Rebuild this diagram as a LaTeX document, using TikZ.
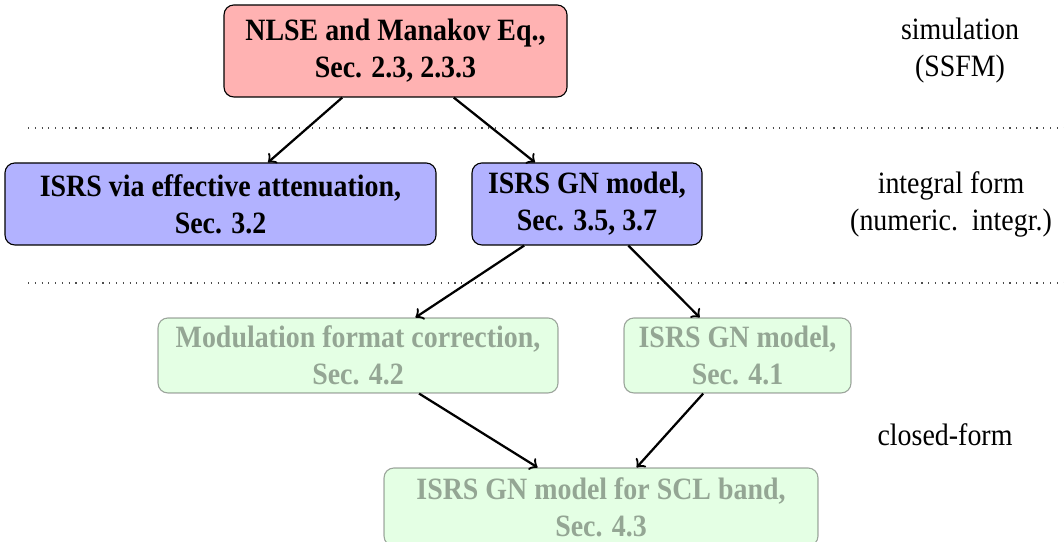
\documentclass[tikz,border=0pt]{standalone}
\usepackage{fontspec}
\setmainfont{Liberation Serif}[FakeStretch=0.9]
\usetikzlibrary{math}

\begin{document}
\begin{tikzpicture}[x=.3546pt,y=-.3546pt,
    box/.style={draw, rounded corners=3.5pt, align=center, inner sep=0pt,
      font=\bfseries\fontsize{11}{13.1}\selectfont},
    boxsize/.style 2 args={minimum width=#1*.3546pt, minimum height=#2*.3546pt},
    simbox/.style={box, fill=red!30},
    intbox/.style={box, fill=blue!30},
    closedbox/.style={box, fill=green!30, opacity=.35},
    layer/.style={align=center, font=\fontsize{11}{13.1}\selectfont},
    link/.style={->, thick},
    sep/.style={dotted, black!70}]
    \tikzmath{
      % ------------------------------
      % the rows of the diagram (in px)
      % ------------------------------
      \rowA=51; % simulation
      \rowB=204; % integral form
      \rowC=355.5; % closed-form
      \rowD=507; % closed-form, last box
    }
    \useasboundingbox (0,0) rectangle (1064,542);
    % -----------------
    % the layer borders
    % -----------------
    \coordinate (sepA0) at (28,128);
    \coordinate (sepA1) at (1064,128);
    \coordinate (sepB0) at (28,283);
    \coordinate (sepB1) at (1064,283);
    \draw[sep] (sepA0) -- (sepA1);
    \draw[sep] (sepB0) -- (sepB1);
    % ---------
    % the boxes
    % ---------
    \node[simbox, boxsize={343}{92}] (nlse) at (395.5,\rowA)
      {NLSE and Manakov Eq.,\\Sec. 2.3, 2.3.3};
    \node[intbox, boxsize={431}{82}] (effatt) at (220.5,\rowB)
      {ISRS via effective attenuation,\\Sec. 3.2};
    \node[intbox, boxsize={230}{82}] (isrsgn) at (587,\rowB)
      {ISRS GN model,\\Sec. 3.5, 3.7};
    \node[closedbox, boxsize={400}{75}] (modform) at (358,\rowC)
      {Modulation format correction,\\Sec. 4.2};
    \node[closedbox, boxsize={227}{75}] (cfgn) at (737.5,\rowC)
      {ISRS GN model,\\Sec. 4.1};
    \node[closedbox, boxsize={434}{78}] (scl) at (601,\rowD)
      {ISRS GN model for SCL band,\\Sec. 4.3};
    % ----------------
    % the layer labels
    % ----------------
    \node[layer] (simlabel) at (960,\rowA) {simulation\\(SSFM)};
    \node[layer] (intlabel) at (951,\rowB) {integral form\\(numeric.\ \ integr.)};
    \node[layer] (cflabel) at (945,435) {closed-form};
    % ---------
    % the links
    % ---------
    \draw[link] (nlse) -- (effatt);
    \draw[link] (nlse) -- (isrsgn);
    \draw[link] (isrsgn) -- (modform);
    \draw[link] (isrsgn) -- (cfgn);
    \draw[link] (modform) -- (scl);
    \draw[link] (cfgn) -- (scl);
  \end{tikzpicture}
\end{document}
